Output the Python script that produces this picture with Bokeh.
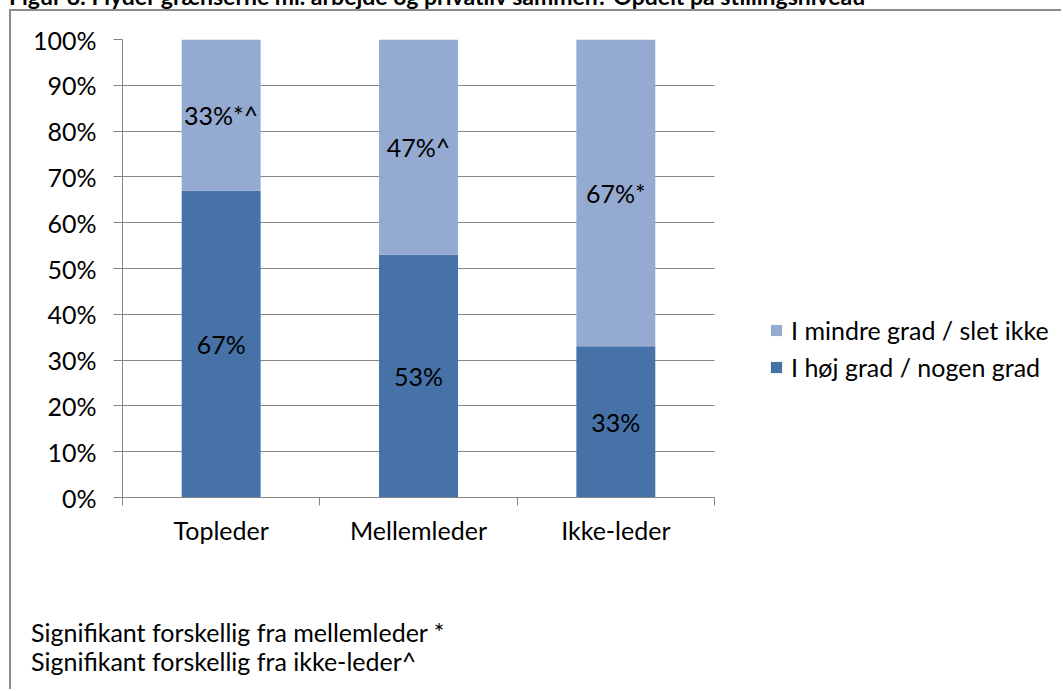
from bokeh.plotting import figure
from bokeh.models import (ColumnDataSource, Range1d, FixedTicker, NumeralTickFormatter,
                          Legend, LegendItem, LabelSet, Div, Column)
from bokeh.core.properties import value
from bokeh.embed import file_html
from bokeh.resources import INLINE

# Data
categories = ["Topleder", "Mellemleder", "Ikke-leder"]
hoej_grad = [67, 53, 33]          # I høj grad / nogen grad
mindre_grad = [33, 47, 67]        # I mindre grad / slet ikke
hoej_labels = ["67%", "53%", "33%"]
mindre_labels = ["33%*^", "47%^", "67%*"]
y_ticks = [0, 10, 20, 30, 40, 50, 60, 70, 80, 90, 100]
series_names = ["I mindre grad / slet ikke", "I høj grad / nogen grad"]
title_text = "Figur 8: Flyder grænserne ml. arbejde og privatliv sammen? Opdelt på stillingsniveau"
notes = ["Signifikant forskellig fra mellemleder *",
         "Signifikant forskellig fra ikke-leder^"]

FONT = "Lato"
FS = "25px"
DARK = "#4672A8"
LIGHT = "#95AAD1"
GRID = "#868686"
BORDER = "#8C8C8C"

# canvas / plot-area geometry (pixels)
CANVAS_W = 1052
LEFT, TOP, PLOT_H, BOTTOM = 111, 28, 458, 60
CANVAS_H = TOP + PLOT_H + BOTTOM
NOTES_H = 691 - 11 - CANVAS_H
PLOT_W = 592                      # width of the bar area; the rest holds the legend
n = len(categories)
x_end = n * (CANVAS_W - LEFT) / PLOT_W

xpos = [i + 0.5 for i in range(n)]
lo = [h / 100 for h in hoej_grad]
hi = [(h + m) / 100 for h, m in zip(hoej_grad, mindre_grad)]

src = ColumnDataSource(dict(
    x=xpos,
    lo=lo,
    hi=hi,
    zero=[0] * n,
    mid_lo=[v / 2 for v in lo],
    mid_hi=[(a + b) / 2 for a, b in zip(lo, hi)],
    lab_lo=hoej_labels,
    lab_hi=mindre_labels,
))

p = figure(width=CANVAS_W, height=CANVAS_H, output_backend="svg", toolbar_location=None,
           x_range=Range1d(0, x_end), y_range=Range1d(0, 1),
           min_border_left=LEFT, min_border_right=0, min_border_top=TOP,
           min_border_bottom=BOTTOM)
p.outline_line_color = None
p.background_fill_color = "white"
p.border_fill_color = "white"
p.margin = (0, 0, 0, 9)
p.styles = {"border-left": f"2px solid {BORDER}", "border-top": f"2px solid {BORDER}"}

# horizontal gridlines over the bar area only
p.xgrid.grid_line_color = None
p.ygrid.ticker = FixedTicker(ticks=[t / 100 for t in y_ticks])
p.ygrid.grid_line_color = GRID
try:
    p.ygrid.cross_bounds = (0, n)
except AttributeError:
    p.ygrid.grid_line_color = None
    p.segment(x0=[0] * len(y_ticks), x1=[n] * len(y_ticks),
              y0=[t / 100 for t in y_ticks], y1=[t / 100 for t in y_ticks],
              line_color=GRID, line_width=1, level="underlay")

r_dark = p.vbar(x="x", bottom="zero", top="lo", width=0.4, source=src,
                fill_color=DARK, line_color=None)
r_light = p.vbar(x="x", bottom="lo", top="hi", width=0.4, source=src,
                 fill_color=LIGHT, line_color=None)

for ycol, tcol in (("mid_lo", "lab_lo"), ("mid_hi", "lab_hi")):
    p.add_layout(LabelSet(x="x", y=ycol, text=tcol, source=src,
                          text_align="center", text_baseline="middle",
                          text_font=value(FONT), text_font_size=value(FS),
                          text_color="black"))

# y axis
yax = p.yaxis[0]
yax.ticker = FixedTicker(ticks=[t / 100 for t in y_ticks], minor_ticks=[])
yax.formatter = NumeralTickFormatter(format="0%")
yax.axis_line_color = GRID
yax.major_tick_line_color = GRID
yax.major_tick_out = 9
yax.major_tick_in = 0
yax.minor_tick_line_color = None
yax.major_label_standoff = 17
yax.major_label_text_font = FONT
yax.major_label_text_font_size = FS
yax.major_label_text_color = "black"

# x axis: labels at bar centres, tick marks at category boundaries
xax = p.xaxis[0]
xax.bounds = (0, n)
xax.ticker = FixedTicker(ticks=xpos, minor_ticks=list(range(n + 1)))
xax.major_label_overrides = {x: c for x, c in zip(xpos, categories)}
xax.axis_line_color = GRID
xax.major_tick_line_color = None
xax.major_tick_out = 0
xax.major_tick_in = 0
xax.minor_tick_line_color = GRID
xax.minor_tick_out = 8
xax.minor_tick_in = 0
xax.major_label_standoff = 9
xax.major_label_text_font = FONT
xax.major_label_text_font_size = FS
xax.major_label_text_color = "black"

legend = Legend(items=[LegendItem(label=series_names[0], renderers=[r_light]),
                       LegendItem(label=series_names[1], renderers=[r_dark])],
                location=(647, 115), orientation="vertical",
                glyph_width=14, glyph_height=14, label_standoff=8, spacing=7,
                padding=0, margin=0, border_line_color=None,
                background_fill_alpha=0,
                label_text_font=FONT, label_text_font_size=FS,
                label_text_color="black")
p.add_layout(legend, "center")

head = Div(text=(f'<div style="position:relative; top:-19px; left:9px; white-space:nowrap; '
                 f'font-family:{FONT}; font-weight:bold; font-size:23px; line-height:30px; '
                 f'color:black">{title_text}</div>'),
           width=1063, height=9, margin=0,
           styles={"overflow": "hidden"})

foot = Div(text=(f'<div style="position:relative; top:{634 - 11 - CANVAS_H - 14}px; left:20px; '
                 f'white-space:nowrap; font-family:{FONT}; font-size:25px; line-height:29px; '
                 f'color:black">{"<br>".join(notes)}</div>'),
           width=CANVAS_W, height=NOTES_H, margin=(0, 0, 0, 9),
           styles={"overflow": "hidden", "border-left": f"2px solid {BORDER}",
                   "background": "white"})

page = Column(children=[head, p, foot], spacing=0, margin=0)

open("out.html", "w").write(file_html(page, INLINE))
